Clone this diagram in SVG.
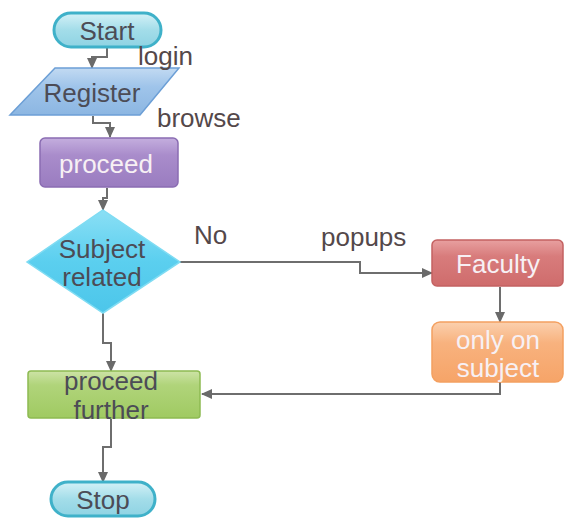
<svg xmlns="http://www.w3.org/2000/svg" width="564" height="518" viewBox="0 0 564 518">
<defs>
<linearGradient id="gCyan" x1="0" y1="0" x2="0" y2="1"><stop offset="0" stop-color="#d4f1f7"/><stop offset="0.5" stop-color="#a3dde9"/><stop offset="1" stop-color="#8fd3e3"/></linearGradient>
<linearGradient id="gBlue" x1="0" y1="0" x2="0" y2="1"><stop offset="0" stop-color="#c2daf2"/><stop offset="0.4" stop-color="#9fc4ea"/><stop offset="1" stop-color="#8cb6e2"/></linearGradient>
<linearGradient id="gPurple" x1="0" y1="0" x2="0" y2="1"><stop offset="0" stop-color="#c4aede"/><stop offset="0.35" stop-color="#a98ccb"/><stop offset="1" stop-color="#9a7cc0"/></linearGradient>
<linearGradient id="gDiamond" x1="0" y1="0" x2="0" y2="1"><stop offset="0" stop-color="#8adff5"/><stop offset="0.5" stop-color="#5bcfef"/><stop offset="1" stop-color="#4cc6ea"/></linearGradient>
<linearGradient id="gRed" x1="0" y1="0" x2="0" y2="1"><stop offset="0" stop-color="#e8a0a0"/><stop offset="0.35" stop-color="#d87c7c"/><stop offset="1" stop-color="#cf6c6c"/></linearGradient>
<linearGradient id="gOrange" x1="0" y1="0" x2="0" y2="1"><stop offset="0" stop-color="#fbd0ae"/><stop offset="0.35" stop-color="#f8b27e"/><stop offset="1" stop-color="#f6a468"/></linearGradient>
<linearGradient id="gGreen" x1="0" y1="0" x2="0" y2="1"><stop offset="0" stop-color="#cde3a6"/><stop offset="0.3" stop-color="#b0d47a"/><stop offset="1" stop-color="#a0ca62"/></linearGradient>
<marker id="arr" markerUnits="userSpaceOnUse" markerWidth="12" markerHeight="12" refX="10" refY="6" orient="auto"><path d="M0,1 L11,6 L0,11 z" fill="#6a6a6a"/></marker>
</defs>
<style>
text{font-family:"Liberation Sans",Arial,sans-serif;font-size:26px}
.dk{fill:#4c4c56}
.wt{fill:#f7f0f4}
.lb{fill:#54484a}
.c{text-anchor:middle}
.con path{fill:none;stroke:#6e6e6e;stroke-width:2;marker-end:url(#arr)}
</style>
<g class="con" id="connectors">
<path d="M107,48 V57 H92 V68"/>
<path d="M93,116 V123 H110 V137"/>
<path d="M107,188 V198 H103 V210"/>
<path d="M180,262 H360 V273 H432"/>
<path d="M500,287 V322"/>
<path d="M500,382 V394 H202"/>
<path d="M103,313 V343 H111 V371"/>
<path d="M111,419 V447 H103 V482"/>
</g>
<g id="start"><rect x="54" y="13" width="107" height="34" rx="17" fill="url(#gCyan)" stroke="#3fb1c9" stroke-width="3"/><text x="107" y="40" class="dk c">Start</text></g>
<g id="register"><path d="M55,68 H179 L140,115 H10 Z" fill="url(#gBlue)" stroke="#6c9fd6" stroke-width="1.5"/><text x="92" y="102" class="dk c">Register</text></g>
<g id="proceed"><rect x="40" y="138" width="138" height="49" rx="5" fill="url(#gPurple)" stroke="#8a6cb2" stroke-width="1.5"/><text x="106" y="173" class="wt c">proceed</text></g>
<g id="subject"><path d="M103,210 L180,262 L103,313 L27,262 Z" fill="url(#gDiamond)" stroke="#7fdcf3" stroke-width="1.5"/><text x="102" y="258" class="dk c">Subject</text><text x="102" y="286" class="dk c">related</text></g>
<g id="faculty"><rect x="432" y="240" width="131" height="46" rx="5" fill="url(#gRed)" stroke="#c46262" stroke-width="1.5"/><text x="498" y="273" class="wt c">Faculty</text></g>
<g id="only"><rect x="432" y="322" width="131" height="60" rx="8" fill="url(#gOrange)" stroke="#f4a060" stroke-width="1.5"/><text x="498" y="349" class="wt c">only on</text><text x="498" y="377" class="wt c">subject</text></g>
<g id="further"><rect x="28" y="371" width="172" height="47" rx="3" fill="url(#gGreen)" stroke="#8dba52" stroke-width="1.5"/><text x="111" y="390" class="dk c">proceed</text><text x="111" y="419" class="dk c">further</text></g>
<g id="stop"><rect x="51" y="482" width="104" height="34" rx="17" fill="url(#gCyan)" stroke="#3fb1c9" stroke-width="3"/><text x="103" y="509" class="dk c">Stop</text></g>
<g id="labels"><text x="138" y="65" class="lb">login</text><text x="157" y="127" class="lb">browse</text><text x="194" y="244" class="lb">No</text><text x="321" y="246" class="lb">popups</text></g>
</svg>
